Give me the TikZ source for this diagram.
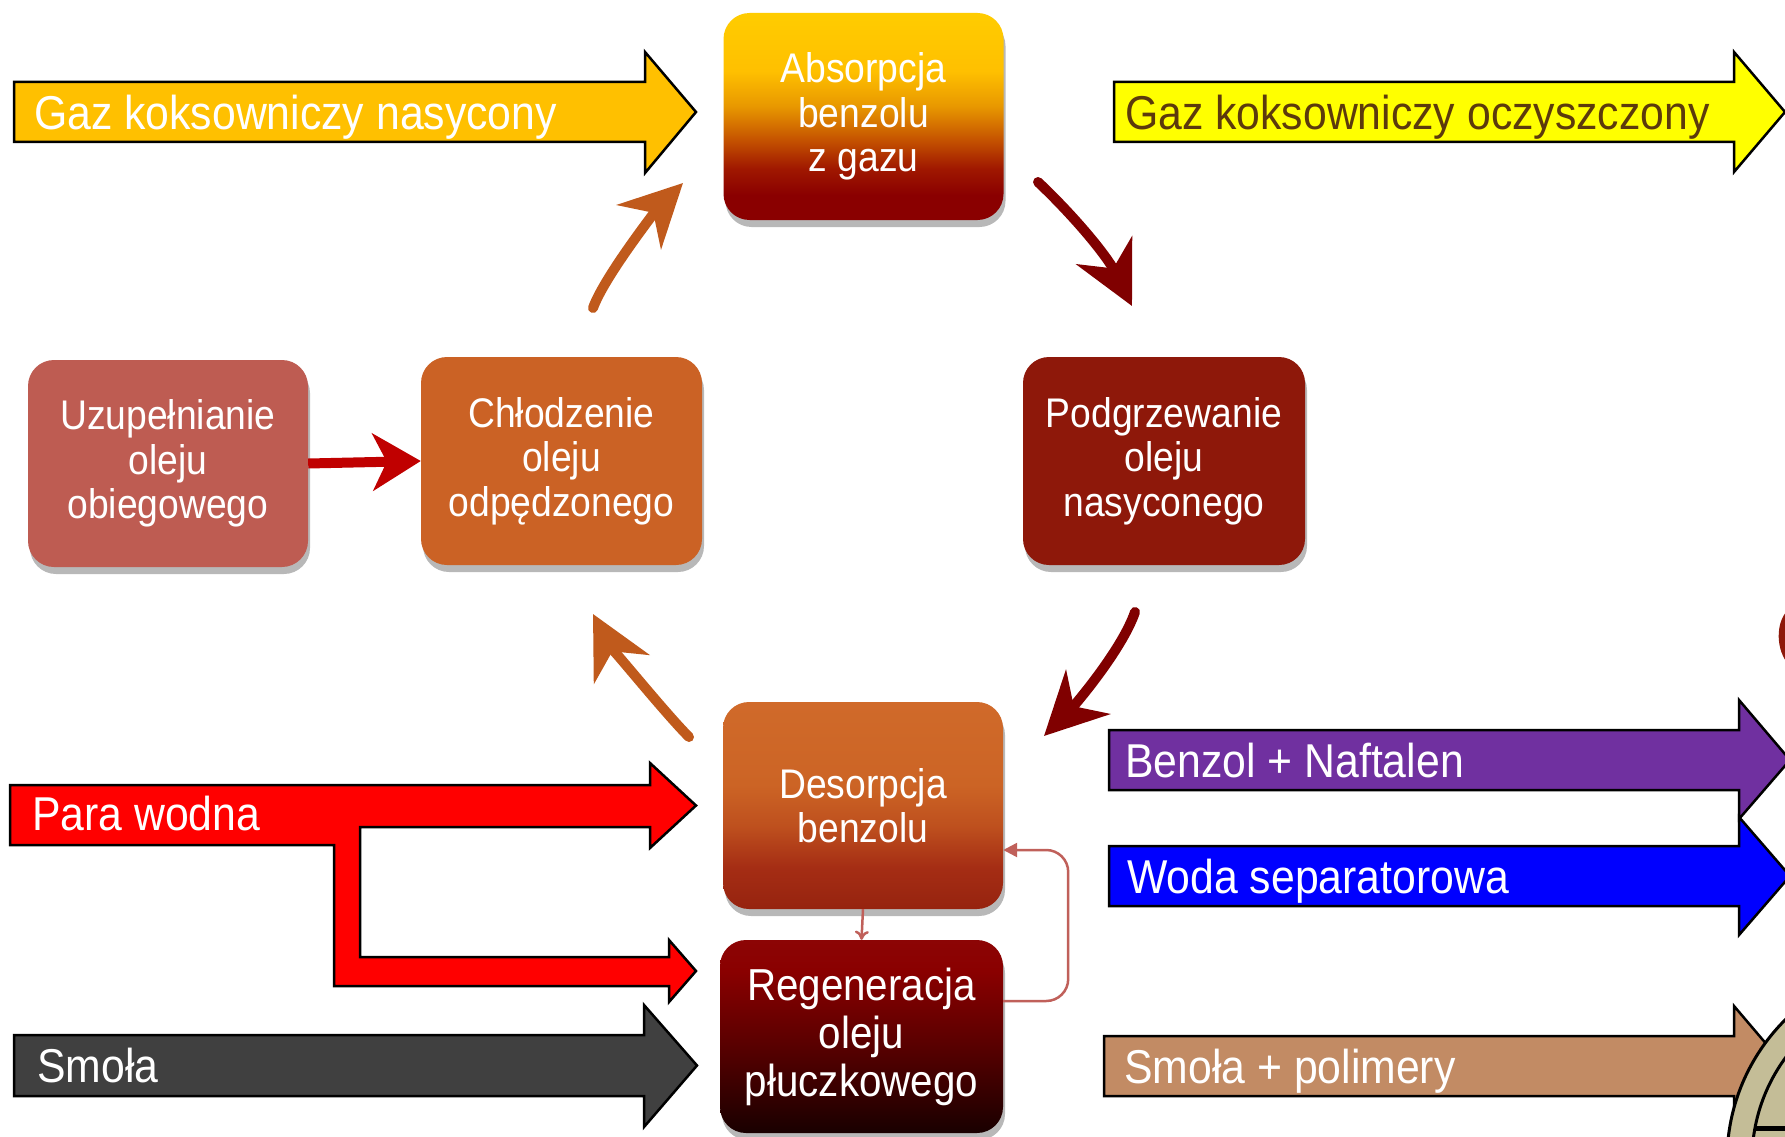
\documentclass[tikz,border=0pt]{standalone}
\usepackage{fontspec}
\setmainfont{Liberation Sans}[FakeStretch=0.9]
\usetikzlibrary{arrows.meta,calc,shadows}
\definecolor{gazgold}{RGB}{255,192,0}
\definecolor{gazyel}{RGB}{255,255,0}
\definecolor{gazbrown}{RGB}{92,58,12}
\definecolor{smolagray}{RGB}{64,64,64}
\definecolor{benzpurple}{RGB}{112,48,160}
\definecolor{wodablue}{RGB}{0,0,255}
\definecolor{tanbrown}{RGB}{194,139,100}
\definecolor{beige}{RGB}{196,189,151}
\definecolor{podred}{RGB}{142,24,10}
\definecolor{chlorange}{RGB}{203,98,37}
\definecolor{uzurose}{RGB}{190,92,82}
\definecolor{maroonA}{RGB}{128,0,0}
\definecolor{orangeA}{RGB}{192,90,28}
\definecolor{redA}{RGB}{192,0,0}
\definecolor{loopcol}{RGB}{192,96,90}
% Absorpcja gradient
\definecolor{ab0}{RGB}{138,0,0}
\definecolor{ab1}{RGB}{160,24,0}
\definecolor{ab2}{RGB}{200,88,0}
\definecolor{ab3}{RGB}{232,152,0}
\definecolor{ab4}{RGB}{255,192,0}
\definecolor{ab5}{RGB}{255,204,0}
\pgfdeclareverticalshading{absgrad}{100bp}{color(0bp)=(ab0); color(31bp)=(ab0); color(37.5bp)=(ab1); color(45bp)=(ab2); color(52.5bp)=(ab3); color(61bp)=(ab4); color(75bp)=(ab5); color(100bp)=(ab5)}
% Desorpcja gradient
\definecolor{de0}{RGB}{150,35,15}
\definecolor{de1}{RGB}{165,45,20}
\definecolor{de2}{RGB}{190,80,30}
\definecolor{de3}{RGB}{204,100,37}
\definecolor{de4}{RGB}{208,106,42}
\pgfdeclareverticalshading{desgrad}{100bp}{color(0bp)=(de0); color(25bp)=(de0); color(35bp)=(de1); color(45bp)=(de2); color(55bp)=(de3); color(75bp)=(de4); color(100bp)=(de4)}
% Regeneracja gradient
\definecolor{re0}{RGB}{25,0,0}
\definecolor{re1}{RGB}{95,0,0}
\definecolor{re2}{RGB}{138,0,0}
\definecolor{re3}{RGB}{140,5,5}
\pgfdeclareverticalshading{reggrad}{100bp}{color(0bp)=(re0); color(25bp)=(re0); color(50bp)=(re1); color(67bp)=(re2); color(75bp)=(re3); color(100bp)=(re3)}
\newcommand\boxfnt{\fontsize{41.4}{44.5}\selectfont}
\newcommand\regfnt{\fontsize{44.8}{48}\selectfont}
\newcommand\lblfnt{\fontsize{47.5}{50}\selectfont}
\tikzset{
  procbox/.style={rounded corners=26pt, inner sep=0pt, align=center, text=white,
    font=\boxfnt, minimum width=280pt, minimum height=207pt,
    drop shadow={shadow xshift=2pt, shadow yshift=-7pt, opacity=0.28, fill=black}},
  arrowshape/.style={draw=black, line width=2.5pt, line join=miter},
  lbl/.style={anchor=base west, inner sep=0pt, font=\lblfnt, text=white},
  curv/.style={line width=10pt, line cap=round, -{Stealth[length=62pt,width=62pt,inset=20pt]}},
  loopc/.style={draw=loopcol, line width=2.5pt}
}
\begin{document}
\begin{tikzpicture}[x=1pt,y=-1pt]
\useasboundingbox[fill=white] (0,0) rectangle (1785,1137);

% ---- wide input/output arrows ----
\draw[arrowshape, fill=gazgold] (14,82) -- (645,82) -- (645,52) -- (696,112) -- (645,173) -- (645,142) -- (14,142) -- cycle;
\node[lbl] (tgazn) at (34,129) {Gaz koksowniczy nasycony};

\draw[arrowshape, fill=gazyel] (1114,82) -- (1734,82) -- (1734,52) -- (1785,112) -- (1734,172) -- (1734,142) -- (1114,142) -- cycle;
\node[lbl, text=gazbrown] (tgazo) at (1125,129) {Gaz koksowniczy oczyszczony};

\draw[arrowshape, fill=red] (10,785) -- (650,785) -- (650,763) -- (696,805.5) -- (650,848) -- (650,827) -- (360,827) -- (360,957) -- (669,957) -- (669,940) -- (696,971) -- (669,1002) -- (669,986) -- (334,986) -- (334,845) -- (10,845) -- cycle;
\node[lbl] (tpara) at (32,830) {Para wodna};

\draw[arrowshape, fill=smolagray] (14,1035) -- (644,1035) -- (644,1005) -- (697,1065.5) -- (644,1127) -- (644,1096) -- (14,1096) -- cycle;
\node[lbl] (tsmola) at (37,1082) {Smoła};

\draw[arrowshape, fill=benzpurple] (1109,730) -- (1739,730) -- (1739,700) -- (1790,760) -- (1739,819) -- (1739,790) -- (1109,790) -- cycle;
\node[lbl] (tbenz) at (1125,777) {Benzol + Naftalen};

\draw[arrowshape, fill=wodablue] (1109,846) -- (1739,846) -- (1739,817) -- (1790,876) -- (1739,935) -- (1739,906) -- (1109,906) -- cycle;
\node[lbl] (twoda) at (1127,893) {Woda separatorowa};

\draw[arrowshape, fill=tanbrown] (1104,1036) -- (1734,1036) -- (1734,1006) -- (1785,1066) -- (1734,1126) -- (1734,1096) -- (1104,1096) -- cycle;
\node[lbl] (tsmp) at (1124,1083) {Smoła + polimery};

% partial objects at the right edge
\draw[line width=3pt, fill=beige] (1925,1160) circle[radius=198];
\draw[line width=3pt, fill=beige] (1925,1160) circle[radius=173];
\draw[line width=5pt] (1755,1128) -- (1790,1128);
\draw[line width=8pt, draw=podred, line cap=round] (1792,612) .. controls (1781,620) and (1779,645) .. (1790,660);

% ---- process boxes ----
\node[procbox, shading=absgrad] (abs) at (863.5,116.5) {Absorpcja\\benzolu\\z gazu};
\node[procbox, fill=podred, minimum width=282pt, minimum height=208pt] (pod) at (1164,461) {Podgrzewanie\\oleju\\nasyconego};
\node[procbox, fill=chlorange, minimum width=281pt, minimum height=208pt] (chl) at (561.5,461) {Chłodzenie\\oleju\\odpędzonego};
\node[procbox, fill=uzurose] (uzu) at (168,463.5) {Uzupełnianie\\oleju\\obiegowego};
\node[procbox, shading=desgrad] (des) at (863,805.5) {Desorpcja\\benzolu};
\node[procbox, shading=reggrad, font=\regfnt, minimum width=283pt, minimum height=193pt] (reg) at (861.5,1036.5) {Regeneracja\\oleju\\płuczkowego};

% ---- connectors ----
\coordinate (c1s) at (1038,182);
\coordinate (c1e) at (1132,306);
\draw[curv, draw=maroonA] (c1s) .. controls (1075,217) and (1107,256) .. (c1e);

\coordinate (c2s) at (1135,612);
\coordinate (c2e) at (1044,736);
\draw[curv, draw=maroonA] (c2s) .. controls (1122,650) and (1074,706) .. (c2e);

\coordinate (c3s) at (689,737);
\coordinate (c3e) at (593,614);
\draw[curv, draw=orangeA] (c3s) .. controls (664,712) and (607,641) .. (c3e);

\coordinate (c4s) at (593,308);
\coordinate (c4e) at (683,183);
\draw[curv, draw=orangeA] (c4s) .. controls (605,275) and (660,206) .. (c4e);

\draw[draw=redA, line width=10pt, -{Stealth[length=48pt,width=57pt,inset=14pt]}] (uzu.east) -- (chl.west);

\draw[loopc, -{To[length=9pt,width=14pt]}] (des.south) -- (reg.north);
\draw[loopc, rounded corners=22pt, -{Triangle[length=14pt,width=14pt]}] ([yshift=35.5pt]reg.east) -- ++(65,0) |- ([yshift=-44.5pt]des.east);
\end{tikzpicture}
\end{document}
